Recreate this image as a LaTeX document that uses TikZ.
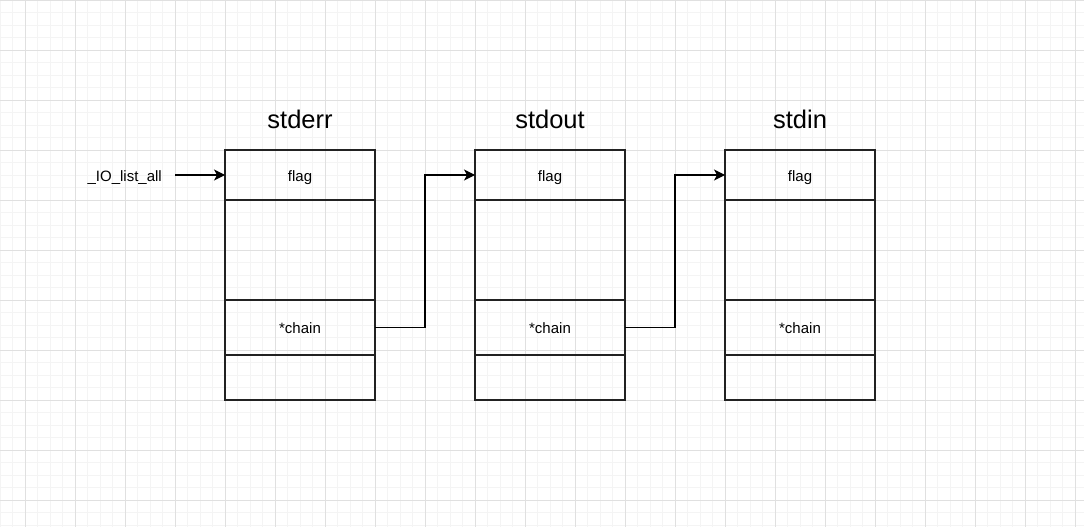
\documentclass[tikz,border=0pt]{standalone}
\usepackage{fontspec}
\setmainfont{Liberation Sans}
\usetikzlibrary{arrows.meta,positioning}

\definecolor{gridminor}{HTML}{F4F4F4}
\definecolor{gridmajor}{HTML}{E0E0E0}
\definecolor{boxline}{HTML}{222222}

\begin{document}
\begin{tikzpicture}[x=1pt,y=-1pt,
    cell/.style={draw=boxline, line width=1.2pt, minimum width=150pt, inner sep=0pt, outer sep=0pt,
                 text height=1.2em, text depth=0pt, font=\fontsize{15}{17}\selectfont},
    fname/.style={inner sep=0pt, font=\fontsize{25.5}{30}\selectfont},
    link/.style={draw=black, line width=1.2pt, -{Stealth[length=11pt,width=11pt,inset=3pt]}}]
        \useasboundingbox (0,0) rectangle (1084,527);
        \fill[white] (0,0) rectangle (1084,527);
        \draw[gridminor, line width=0.9pt] (0,0) grid[step=12.5pt] (1084,527);              % small grid
        \draw[gridmajor, line width=0.9pt, xshift=25pt] (-25,0) grid[step=50pt] (1059,527);  % big grid

        % stderr
        \node[cell, minimum height=50pt, anchor=north west] (errflag) at (225,150) {flag};
        \node[cell, minimum height=100pt, anchor=north] (errmid) at (errflag.south) {};
        \node[cell, minimum height=55pt, anchor=north] (errchain) at (errmid.south) {*chain};
        \node[cell, minimum height=45pt, anchor=north] (errend) at (errchain.south) {};
        \node[fname, above=21pt of errflag] (errname) {stderr};

        % stdout
        \node[cell, minimum height=50pt, anchor=north west] (outflag) at (475,150) {flag};
        \node[cell, minimum height=100pt, anchor=north] (outmid) at (outflag.south) {};
        \node[cell, minimum height=55pt, anchor=north] (outchain) at (outmid.south) {*chain};
        \node[cell, minimum height=45pt, anchor=north] (outend) at (outchain.south) {};
        \node[fname, above=21pt of outflag] (outname) {stdout};

        % stdin
        \node[cell, minimum height=50pt, anchor=north west] (inflag) at (725,150) {flag};
        \node[cell, minimum height=100pt, anchor=north] (inmid) at (inflag.south) {};
        \node[cell, minimum height=55pt, anchor=north] (inchain) at (inmid.south) {*chain};
        \node[cell, minimum height=45pt, anchor=north] (inend) at (inchain.south) {};
        \node[fname, above=21pt of inflag] (inname) {stdin};

        % list head
        \node[inner xsep=13pt, inner ysep=0pt, text height=1.2em, text depth=0pt, font=\fontsize{15}{17}\selectfont,
              left=0pt of errflag.west, xshift=-50pt] (iolist) {\_IO\_list\_all};
        \draw[link] (iolist.east) -- (errflag.west);
        \draw[link] (errchain.east) -- ++(50,0) |- (outflag.west);
        \draw[link] (outchain.east) -- ++(50,0) |- (inflag.west);
    \end{tikzpicture}
\end{document}
